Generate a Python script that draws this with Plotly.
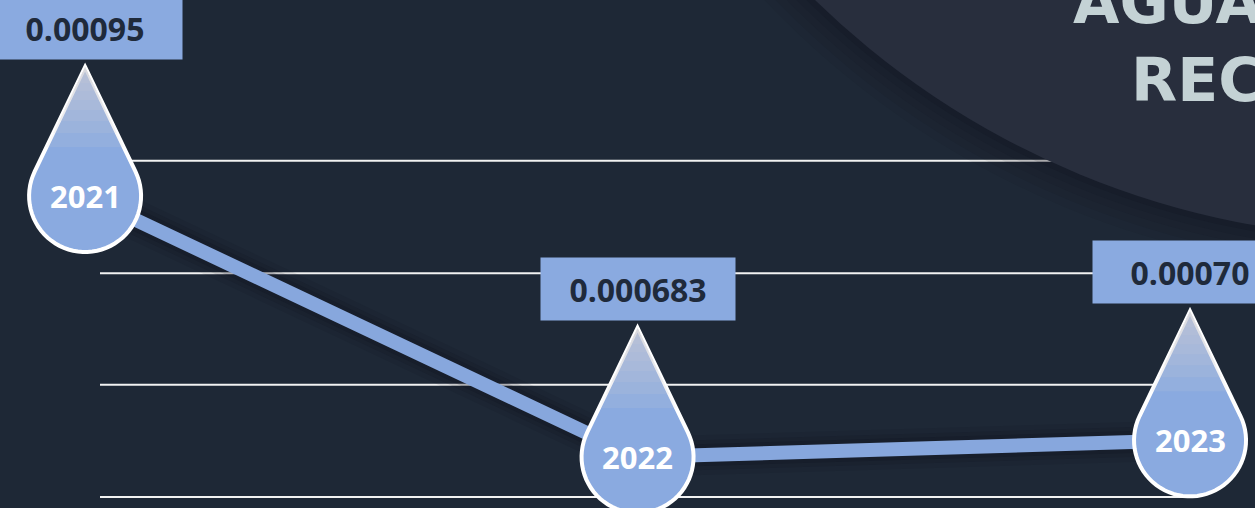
import numpy as np
import plotly.graph_objects as go

# ── data ───────────────────────────────────────────────────────────────────
years = [2021, 2022, 2023]
values = [0.00095, 0.000683, 0.00070]
value_labels = ["0.00095", "0.000683", "0.00070"]
year_labels = ["2021", "2022", "2023"]
grid_levels = [0.000642, 0.000757, 0.000871, 0.000986]
title_lines = ["AGUA", "RECICLADA"]

W, H = 1255, 508
BG = "#1e2836"
CIRCLE = "#282e3d"
BLUE = "#8aaae0"
DARK_TXT = "#1f2a3b"
TITLE_TXT = "#c4d2d5"


def drop_path(r=56, tip=129, n=48):
    # teardrop: point at the top, round part centred on the anchor
    th = np.arccos(r / tip)
    pts = [(0, tip)]
    for a in np.linspace(th, 2 * np.pi - th, n):
        pts.append((r * np.sin(a), r * np.cos(a)))
    return "M " + " L ".join(f"{x:.2f},{y:.2f}" for x, y in pts) + " Z"


def tip_path(h, r=56, tip=129):
    # small triangle hugging the tip, stacked to fake the grey gradient
    th = np.arccos(r / tip)
    tx, ty = r * np.sin(th), r * np.cos(th)
    k = h / (tip - ty)
    return f"M 0,{tip} L {tx * k:.2f},{tip - h} L {-tx * k:.2f},{tip - h} Z"


fig = go.Figure()

# diffuse shadow under the line (a few wide, faint strokes)
for w, a in [(40, 0.08), (30, 0.10), (22, 0.14)]:
    fig.add_trace(go.Scatter(
        x=years, y=values, mode="lines",
        line=dict(color=f"rgba(8,10,22,{a})", width=w),
        hoverinfo="skip", showlegend=False,
    ))
fig.add_trace(go.Scatter(
    x=years, y=values, mode="lines",
    line=dict(color="#87a7dd", width=14),
    hoverinfo="skip", showlegend=False,
))

shapes = []

# gridlines (stop short of the right edge)
for g in grid_levels:
    shapes.append(dict(
        type="line", xref="paper", yref="y",
        x0=100 / W, x1=1185 / W, y0=g, y1=g,
        line=dict(color="#f2f2f2", width=2), layer="below",
    ))

# big dark circle in the corner, with a faint shadow halo
cx, cy, cr = 1400, -600, 838
halo = [(36, 0.05), (28, 0.06), (20, 0.07), (13, 0.08), (6, 0.10)]
for extra, a in halo:
    rr = cr + extra
    shapes.append(dict(
        type="circle", xref="paper", yref="paper",
        x0=(cx - rr) / W, x1=(cx + rr) / W,
        y0=1 - (cy + rr) / H, y1=1 - (cy - rr) / H,
        fillcolor=f"rgba(10,13,22,{a})", line=dict(width=0), layer="above",
    ))
shapes.append(dict(
    type="circle", xref="paper", yref="paper",
    x0=(cx - cr) / W, x1=(cx + cr) / W,
    y0=1 - (cy + cr) / H, y1=1 - (cy - cr) / H,
    fillcolor=CIRCLE, line=dict(width=0), layer="above",
))

# teardrop markers anchored on the data points
for yr, v in zip(years, values):
    shapes.append(dict(
        type="path", xref="x", yref="y",
        xsizemode="pixel", ysizemode="pixel", xanchor=yr, yanchor=v,
        path=drop_path(), fillcolor=BLUE,
        line=dict(color="white", width=4), layer="above",
    ))
    for h in (80, 66, 54, 43, 33, 24, 16, 9):
        shapes.append(dict(
            type="path", xref="x", yref="y",
            xsizemode="pixel", ysizemode="pixel", xanchor=yr, yanchor=v,
            path=tip_path(h), fillcolor="rgba(205,207,216,0.14)",
            line=dict(width=0), layer="above",
        ))

annotations = []

# title, partly running off the right edge
for txt, px, py in zip(title_lines, [1071, 1129], [2, 80]):
    annotations.append(dict(
        xref="paper", yref="paper", x=px / W, y=1 - py / H,
        xanchor="left", yanchor="middle", showarrow=False, text=txt,
        font=dict(family="DejaVu Sans", size=60, color=TITLE_TXT, weight=700),
    ))

for yr, v, lab, ylab in zip(years, values, value_labels, year_labels):
    annotations.append(dict(
        x=yr, y=v, xref="x", yref="y", yshift=168, showarrow=False,
        text=lab, width=194, height=62, bgcolor=BLUE, borderpad=0,
        font=dict(family="Open Sans", size=32, color=DARK_TXT, weight=700),
    ))
    annotations.append(dict(
        x=yr, y=v, xref="x", yref="y", showarrow=False, text=ylab,
        font=dict(family="Open Sans", size=31, color="white", weight=700),
    ))

fig.update_layout(
    width=W, height=H,
    margin=dict(l=0, r=0, t=0, b=0, pad=0),
    paper_bgcolor=BG, plot_bgcolor=BG,
    xaxis=dict(range=[2020.846, 2023.1176], visible=False, fixedrange=True),
    yaxis=dict(range=[0.0006308, 0.0011505], visible=False, fixedrange=True),
    shapes=shapes, annotations=annotations,
    showlegend=False,
)

fig.write_html(
    "out.html",
    config={"displayModeBar": False},
    post_script="document.body.style.margin='0';",
)
